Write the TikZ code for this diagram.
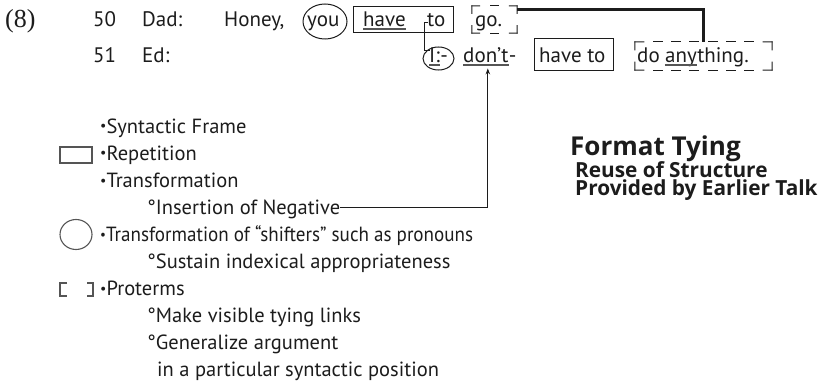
\documentclass[tikz,border=0pt]{standalone}
\usepackage{fontspec}
\setmainfont{PT Sans}
\newfontfamily\serifnum{Liberation Serif}
\newfontfamily\titlefont{Open Sans}
\usetikzlibrary{shapes.geometric,arrows.meta,calc}
\definecolor{ink}{HTML}{1C1C1C}
\definecolor{ulc}{HTML}{555555}
\newcommand\smbul{{\fontsize{14}{14}\selectfont\raisebox{2pt}{•}}}
\newcommand\dashside[4]{%
  \foreach \i in {1,...,#3}{%
    \pgfmathsetmacro\dsS{(\i-1)*(1-#4)/(#3-1)}%
    \pgfmathsetmacro\dsE{\dsS+#4}%
    \draw[dline] ($(#1)!\dsS!(#2)$) -- ($(#1)!\dsE!(#2)$);}}
\begin{document}
\begin{tikzpicture}[x=1pt,y=-1pt,
  txt/.style={anchor=base west,inner sep=0pt,font=\fontsize{21}{24}\selectfont,text=ink},
  leg/.style={anchor=base west,inner sep=0pt,font=\fontsize{20.5}{24}\selectfont,text=ink},
  ttl/.style={anchor=base west,inner sep=0pt,font=\titlefont\fontsize{26}{28}\selectfont\bfseries,text=ink},
  sub/.style={anchor=base west,inner sep=0pt,align=left,font=\titlefont\fontsize{20.8}{18}\selectfont\bfseries,text=ink},
  numfont/.style={anchor=base west,inner sep=0pt,font=\fontsize{26}{28}\serifnum,text=ink},
  boxed/.style={draw=ink,line width=1pt,inner sep=0pt},
  shell/.style={inner sep=0pt},
  circ/.style={draw=ink,line width=1pt,ellipse,inner sep=0pt},
  dline/.style={draw=ink,line width=1pt,line cap=rect},
  ul/.style={draw=ulc,line width=1.2pt},
  conn/.style={draw=ink,line width=0.8pt},
  heavy/.style={draw=ink,line width=2.6pt},
  arr/.style={draw=ink,line width=0.9pt,-{Stealth[length=6pt,width=4.5pt]}},
  icon/.style={draw=ulc,line width=1.1pt}]
\useasboundingbox (0,0) rectangle (821,385);

% --- transcript lines ---
\node[numfont] (n8) at (5,28) {(8)};
\node[txt] (l50) at (93,27) {50};
\node[txt] (dad) at (142,27) {Dad:};
\node[txt] (honey) at (224,27) {Honey,};
\node[txt] (you) at (307,27) {you};
\node[txt] (have) at (363,27) {have};
\node[txt] (tow) at (427,27) {to};
\node[txt] (go) at (475,27) {go.};

\node[txt] (l51) at (93,63) {51};
\node[txt] (ed) at (142,63) {Ed:};
\node[txt] (iI) at (429,63) {I:};
\node[txt] (idash) at (iI.base east) {-};
\node[txt] (dont) at (463,63) {don’t};
\node[txt] (dontdash) at (dont.base east) {-};
\node[txt] (have2) at (539,63) {have to};
\node[txt] (do) at (637,63) {do};
\node[txt] (any) at ([xshift=5pt]do.base east) {any};
\node[txt] (thing) at (any.base east) {thing.};

% underlines
\draw[ul] ([yshift=-2pt]have.base west) -- ([yshift=-2pt]have.base east);
\draw[ul] ([yshift=-2pt]iI.base west) -- ([yshift=-2pt]iI.base east);
\draw[ul] ([yshift=-2pt]dont.base west) -- ([yshift=-2pt]dont.base east);
\draw[ul] ([yshift=-2pt]any.base west) -- ([yshift=-2pt]any.base east);

% marks around words
\node[circ,minimum width=44pt,minimum height=35pt] (youc) at (325,21.5) {};
\node[boxed,minimum width=100pt,minimum height=26pt] (hbox) at (403,20) {};
\node[shell,minimum width=45pt,minimum height=27pt] (gobox) at (494.5,19.5) {};
\node[circ,minimum width=31pt,minimum height=23pt] (ic) at (438.5,58.5) {};
\node[boxed,minimum width=79pt,minimum height=32pt] (hbox2) at (573.5,55) {};
\node[shell,minimum width=137pt,minimum height=28pt] (dobox) at (703.5,56) {};
% dashed frames
\dashside{gobox.north west}{gobox.north east}{3}{0.17}
\dashside{gobox.south west}{gobox.south east}{3}{0.17}
\dashside{gobox.north west}{gobox.south west}{2}{0.28}
\dashside{gobox.north east}{gobox.south east}{2}{0.28}
\dashside{dobox.north west}{dobox.north east}{8}{0.066}
\dashside{dobox.south west}{dobox.south east}{8}{0.066}
\dashside{dobox.north west}{dobox.south west}{2}{0.28}
\dashside{dobox.north east}{dobox.south east}{2}{0.28}

% connectors
\draw[heavy] ([yshift=-3.5pt]gobox.north east) -| (dobox.north);
\draw[conn] ([xshift=1pt,yshift=5pt]tow.base west) -- ++(-3.5,0) |- ([xshift=0.5pt,yshift=13pt]iI.base west);

% --- legend ---
\node[icon,shell,draw,minimum width=32pt,minimum height=16pt] (iconbox) at (76,155) {};
\node[icon,shell,draw,ellipse,minimum width=32pt,minimum height=30pt] (iconcirc) at (76,234.5) {};
\coordinate (brl) at (60,283);
\coordinate (brr) at (93,283);
\draw[icon] ([xshift=7pt]brl) -- (brl) -- ++(0,13) -- ++(7,0);
\draw[icon] ([xshift=-6pt]brr) -- (brr) -- ++(0,13) -- ++(-6,0);

\node[leg] (s1) at (100,133) {\smbul Syntactic Frame};
\node[leg] (s2) at (100,160) {\smbul Repetition};
\node[leg] (s3) at (100,187) {\smbul Transformation};
\node[leg] (ins) at (147,214) {°Insertion of Negative};
\node[leg] (s5) at (100,241) {\scalebox{0.93}[1]{\smbul Transformation of “shifters” such as pronouns}};
\node[leg] (s6) at (147,268) {°Sustain indexical appropriateness};
\node[leg] (s7) at (100,295) {\smbul Proterms};
\node[leg] (s8) at (147,322) {°Make visible tying links};
\node[leg] (s9) at (147,349) {°Generalize argument};
\node[leg] (s10) at (157,376) {in a particular syntactic position};

\draw[arr] ([yshift=1pt]ins.east) -| ([xshift=2pt,yshift=-5pt]dont.south);

% --- title ---
\node[ttl] (ft) at (570,155) {Format Tying};
\node[sub] (rs) at (575,195) {Reuse of Structure\\Provided by Earlier Talk};
\end{tikzpicture}
\end{document}
